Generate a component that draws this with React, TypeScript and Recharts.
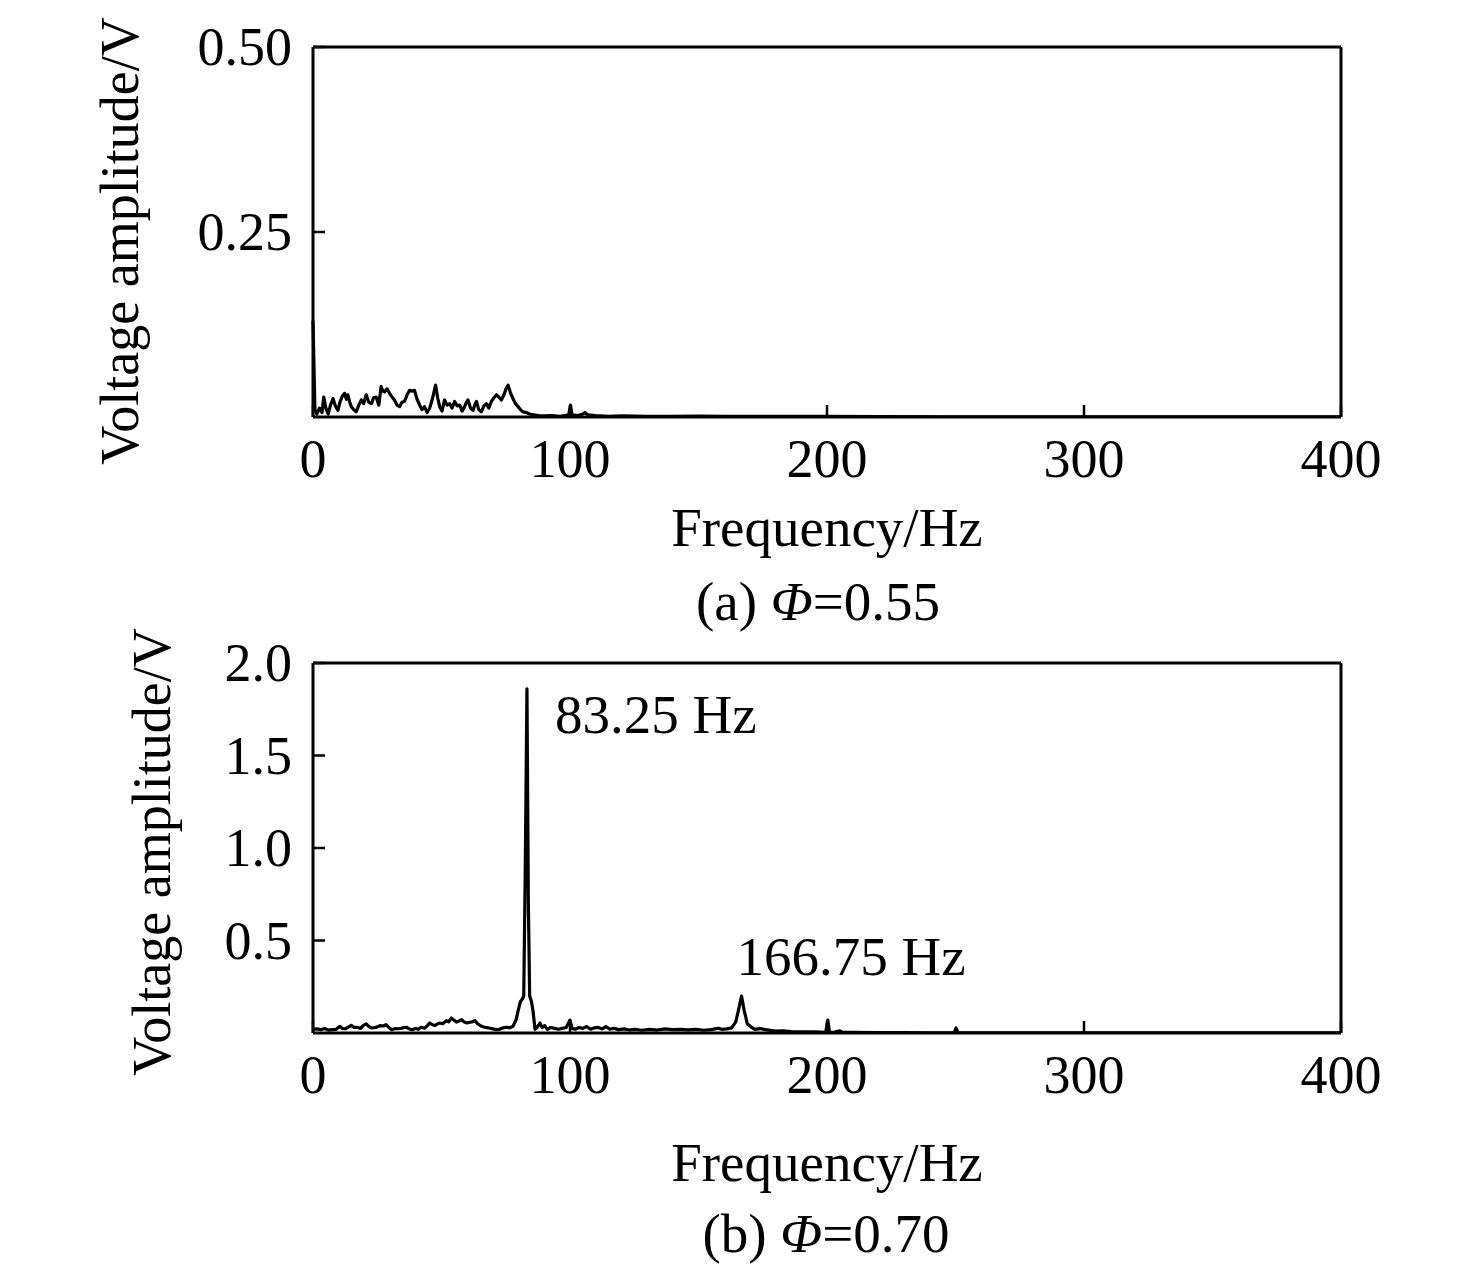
import React from 'react';
import { LineChart, Line, XAxis, YAxis, ReferenceLine, ReferenceDot, Label } from 'recharts';

const FONT = "'Liberation Serif', 'Times New Roman', serif";

// (a) Φ=0.55
const freqA = [0, 0.75, 1.5, 2.5, 3.5, 4.2, 5, 5.9, 6.8, 7.8, 8.7, 9.7, 10.5, 11.4, 12.3, 13, 13.6, 14.3, 14.9, 15.8, 16.8, 17.8, 18.8, 19.7, 20.7, 21.7, 22.7, 23.6, 24.6, 25.6, 26.5, 27.2, 27.8, 28.8, 29.8, 30.7, 31.7, 32.7, 33.7, 34.6, 35.6, 36.6, 37.6, 38.5, 39.5, 40.5, 41.5, 42.4, 43.4, 44.4, 45.4, 46.5, 47.7, 48.5, 49.3, 50.2, 51.2, 52.2, 53.2, 54.1, 55.1, 56.1, 57.1, 58, 59, 59.7, 60.3, 61.3, 62.3, 63, 63.6, 64.5, 65.5, 66.5, 67.5, 68.4, 69.4, 70.4, 71.4, 72.3, 73.3, 74.3, 75.1, 75.9, 76.8, 77.8, 78.8, 79.8, 80.7, 81.7, 83, 84.3, 86, 88, 90, 93, 96, 98, 99.5, 100.2, 100.8, 103, 105, 105.8, 106.8, 110, 115, 120, 130, 140, 150, 160, 170, 180, 190, 200, 220, 250, 300, 350, 400];
const ampA = [0.13, 0.010, 0.004, 0.012, 0.006, 0.027, 0.012, 0.004, 0.016, 0.025, 0.015, 0.009, 0.020, 0.028, 0.032, 0.024, 0.030, 0.020, 0.014, 0.010, 0.007, 0.016, 0.023, 0.018, 0.030, 0.020, 0.018, 0.026, 0.027, 0.016, 0.041, 0.035, 0.034, 0.038, 0.032, 0.027, 0.023, 0.016, 0.014, 0.020, 0.021, 0.030, 0.036, 0.035, 0.036, 0.024, 0.016, 0.010, 0.014, 0.006, 0.012, 0.025, 0.043, 0.026, 0.014, 0.008, 0.023, 0.016, 0.018, 0.012, 0.021, 0.015, 0.016, 0.008, 0.014, 0.020, 0.023, 0.012, 0.009, 0.017, 0.021, 0.010, 0.007, 0.015, 0.018, 0.012, 0.021, 0.026, 0.030, 0.027, 0.023, 0.030, 0.038, 0.043, 0.033, 0.025, 0.018, 0.014, 0.010, 0.007, 0.006, 0.004, 0.003, 0.002, 0.0015, 0.002, 0.001, 0.002, 0.003, 0.016, 0.003, 0.002, 0.004, 0.006, 0.003, 0.002, 0.001, 0.0015, 0.001, 0.001, 0.0012, 0.001, 0.001, 0.0008, 0.001, 0.0008, 0.0005, 0.0003, 0.0002, 0.0001, 0.0001];

// (b) Φ=0.70
const freqB = [0, 1.5, 3, 4.5, 6, 7.5, 9, 10.5, 11.5, 12.5, 13.5, 14.9, 16, 17, 18.5, 19.5, 20.7, 22, 23, 24.5, 26, 27.4, 28.4, 29.5, 30.6, 32, 33.5, 35, 36.3, 37.5, 38.5, 40, 41, 42.1, 43.5, 44.5, 45.4, 46.5, 47.5, 48.5, 49.3, 50.5, 51.9, 52.8, 53.8, 54.8, 55.8, 56.8, 57.8, 58.8, 60, 61, 62, 63, 64, 65.6, 67, 68.5, 70, 71.4, 72.5, 73.5, 75.3, 76.5, 77.8, 79, 79.8, 80.7, 81.3, 82, 82.6, 83.25, 83.8, 84.3, 85, 85.6, 86.4, 87.2, 88.3, 89.2, 90.2, 91.2, 92.5, 94, 95.5, 97, 98.5, 100, 100.8, 102, 103.5, 105, 106.5, 108, 109.5, 111, 112.5, 114, 115.5, 117, 119, 121, 123, 125, 128, 131, 134, 137, 140, 143, 146, 149, 152, 155, 157.7, 159, 161, 162.9, 164.5, 165.5, 166.75, 167.8, 169, 170.7, 172, 174, 176, 178, 180, 183, 186, 190, 195, 199.5, 200.3, 201, 203, 205, 206, 210, 220, 230, 240, 249.5, 250.2, 251, 260, 280, 300, 350, 400];
const ampB = [0.02, 0.022, 0.018, 0.024, 0.016, 0.018, 0.02, 0.036, 0.024, 0.023, 0.03, 0.041, 0.03, 0.031, 0.025, 0.04, 0.049, 0.032, 0.027, 0.03, 0.04, 0.038, 0.045, 0.03, 0.018, 0.024, 0.023, 0.028, 0.031, 0.022, 0.018, 0.024, 0.02, 0.031, 0.026, 0.04, 0.054, 0.045, 0.041, 0.05, 0.054, 0.05, 0.067, 0.06, 0.081, 0.07, 0.059, 0.065, 0.072, 0.06, 0.054, 0.058, 0.06, 0.067, 0.05, 0.036, 0.03, 0.027, 0.022, 0.018, 0.02, 0.026, 0.031, 0.028, 0.036, 0.07, 0.12, 0.17, 0.18, 0.2, 0.9, 1.86, 0.7, 0.2, 0.17, 0.12, 0.02, 0.03, 0.054, 0.03, 0.04, 0.02, 0.03, 0.025, 0.02, 0.025, 0.03, 0.07, 0.025, 0.02, 0.03, 0.025, 0.035, 0.02, 0.028, 0.03, 0.022, 0.035, 0.02, 0.025, 0.018, 0.022, 0.016, 0.02, 0.015, 0.02, 0.016, 0.022, 0.018, 0.02, 0.017, 0.02, 0.015, 0.018, 0.026, 0.02, 0.022, 0.028, 0.06, 0.12, 0.2, 0.12, 0.05, 0.03, 0.02, 0.024, 0.018, 0.014, 0.01, 0.012, 0.008, 0.006, 0.006, 0.004, 0.07, 0.004, 0.005, 0.012, 0.004, 0.003, 0.002, 0.002, 0.001, 0.002, 0.027, 0.002, 0.001, 0.001, 0.0008, 0.0005, 0.0005];

const xTicks = [0, 100, 200, 300, 400];
const yTicksA = [0.25, 0.5];
const yTicksB = [0.5, 1.0, 1.5, 2.0];

const peaksB = [
  { f: 83.25, v: 1.86, text: '83.25 Hz', dx: 28, dy: 44 },
  { f: 166.75, v: 0.2, text: '166.75 Hz', dx: -5, dy: -21 },
];

const W = 1476;
const H = 660;
const MARGIN = { top: 47, right: 135, left: 213, bottom: H - 47 - 370 - 50 };

const makeXTick = (props: any) => {
  const { x, y, payload } = props;
  return (
    <g>
      <line x1={x} x2={x} y1={y} y2={y - 12} stroke="#000" strokeWidth={2.5} />
      <text x={x} y={y + 60} textAnchor="middle" fontSize={54} fontFamily={FONT} fill="#000">
        {payload.value}
      </text>
    </g>
  );
};

const makeYTick = (digits: number) => (props: any) => {
  const { x, y, payload } = props;
  return (
    <g>
      <line x1={x} x2={x + 12} y1={y} y2={y} stroke="#000" strokeWidth={2.5} />
      <text x={x - 21} y={y + 18} textAnchor="end" fontSize={54} fontFamily={FONT} fill="#000">
        {Number(payload.value).toFixed(digits)}
      </text>
    </g>
  );
};

type PanelProps = {
  freq: number[];
  amp: number[];
  yMax: number;
  yTicks: number[];
  digits: number;
  freqBaseline: number;
  titleBaseline: number;
  titleX: number;
  titleLetter: string;
  titleValue: string;
  yLabelX: number;
  yLabelY: number;
  peaks: { f: number; v: number; text: string; dx: number; dy: number }[];
};

function Panel(p: PanelProps) {
  const data = p.freq.map((f, i) => ({ f, v: p.amp[i] }));
  const xLabel = (lp: any) => {
    const vb = lp.viewBox;
    return (
      <g>
        <text x={vb.x + vb.width / 2} y={p.freqBaseline} textAnchor="middle" fontSize={55} fontFamily={FONT} fill="#000">
          Frequency/Hz
        </text>
        <text x={p.titleX} y={p.titleBaseline} textAnchor="middle" fontSize={55} fontFamily={FONT} fill="#000">
          <tspan>{`(${p.titleLetter}) `}</tspan>
          <tspan fontStyle="italic">Φ</tspan>
          <tspan>{`=${p.titleValue}`}</tspan>
        </text>
      </g>
    );
  };
  const yLabel = () => (
    <text
      x={p.yLabelX}
      y={p.yLabelY}
      transform={`rotate(-90, ${p.yLabelX}, ${p.yLabelY})`}
      textAnchor="middle"
      fontSize={54}
      fontFamily={FONT}
      fill="#000"
    >
      Voltage amplitude/V
    </text>
  );
  return (
    <LineChart width={W} height={H} data={data} margin={MARGIN} style={{ overflow: 'visible' }}>
      <XAxis
        dataKey="f"
        type="number"
        domain={[0, 400]}
        ticks={xTicks}
        interval={0}
        tickSize={0}
        tickMargin={0}
        height={50}
        tick={makeXTick}
        tickLine={false}
        axisLine={{ stroke: '#000', strokeWidth: 3 }}
      >
        <Label content={xLabel} />
      </XAxis>
      <YAxis
        type="number"
        domain={[0, p.yMax]}
        ticks={p.yTicks}
        interval={0}
        tickSize={0}
        tickMargin={0}
        width={100}
        tick={makeYTick(p.digits)}
        tickLine={false}
        axisLine={{ stroke: '#000', strokeWidth: 3 }}
        allowDataOverflow
      >
        <Label content={yLabel} />
      </YAxis>
      <ReferenceLine y={p.yMax} stroke="#000" strokeWidth={3} />
      <ReferenceLine x={400} stroke="#000" strokeWidth={3} />
      <Line
        dataKey="v"
        type="linear"
        stroke="#000"
        strokeWidth={3.2}
        strokeLinejoin="round"
        dot={false}
        isAnimationActive={false}
      />
      {p.peaks.map((pk) => (
        <ReferenceDot
          key={pk.text}
          x={pk.f}
          y={pk.v}
          r={0}
          fill="none"
          stroke="none"
          label={(lp: any) => {
            const vb = lp.viewBox;
            const cx = vb.x + (vb.width || 0) / 2;
            const cy = vb.y + (vb.height || 0) / 2;
            return (
              <text x={cx + pk.dx} y={cy + pk.dy} fontSize={55} fontFamily={FONT} fill="#000">
                {pk.text}
              </text>
            );
          }}
        />
      ))}
    </LineChart>
  );
}

export default function App() {
  return (
    <div style={{ position: 'absolute', left: 0, top: 0, width: W, height: 1274, background: '#fff', fontFamily: FONT }}>
      <div style={{ position: 'absolute', left: 0, top: 0 }}>
        <Panel
          freq={freqA}
          amp={ampA}
          yMax={0.5}
          yTicks={yTicksA}
          digits={2}
          freqBaseline={546}
          titleBaseline={620}
          titleX={818}
          titleLetter="a"
          titleValue="0.55"
          yLabelX={138}
          yLabelY={241}
          peaks={[]}
        />
      </div>
      <div style={{ position: 'absolute', left: 0, top: 616 }}>
        <Panel
          freq={freqB}
          amp={ampB}
          yMax={2}
          yTicks={yTicksB}
          digits={1}
          freqBaseline={565}
          titleBaseline={636}
          titleX={826}
          titleLetter="b"
          titleValue="0.70"
          yLabelX={170}
          yLabelY={236}
          peaks={peaksB}
        />
      </div>
    </div>
  );
}
